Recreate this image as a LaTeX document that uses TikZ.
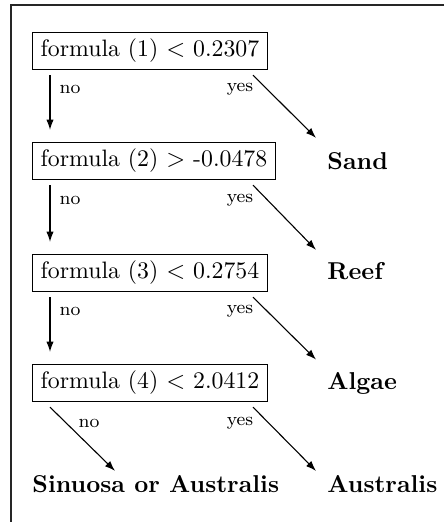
\documentclass[tikz,border=0pt]{standalone}
\usetikzlibrary{calc,arrows.meta}

\tikzset{
  test/.style={draw, line width=0.55pt, inner xsep=3.3pt, inner ysep=2.7pt,
               anchor=west, font=\fontsize{9.75}{12}\selectfont},
  leaf/.style={anchor=west, inner sep=0pt, font=\fontsize{10}{12}\selectfont\bfseries},
  edgelabel/.style={inner sep=0pt, font=\fontsize{7.6}{9}\selectfont},
  branch/.style={line width=0.45pt, -{Latex[length=4.2pt,width=3pt]}},
}

\begin{document}
\begin{tikzpicture}[x=0.41pt, y=-0.41pt]
  \useasboundingbox (0,0) rectangle (444,522);

  % cropped outer frame: only its top and left sides are in view
  \coordinate (frameTL) at (11,5);
  \coordinate (frameTR) at (444,5);
  \coordinate (frameBL) at (11,522);
  \draw[line width=0.6pt, black!85] (frameTR) -- (frameTL) -- (frameBL);

  % decision tests
  \node[test] (b1) at (32,51)  {formula (1) $<$ 0.2307};
  \node[test] (b2) at (32,161) {formula (2) $>$ -0.0478};
  \node[test] (b3) at (32,273) {formula (3) $<$ 0.2754};
  \node[test] (b4) at (32,383) {formula (4) $<$ 2.0412};

  % outcomes
  \node[leaf] (sand)  at (327,161) {Sand};
  \node[leaf] (reef)  at (327,271) {Reef};
  \node[leaf] (algae) at (327,383) {Algae};
  \node[leaf] (aus)   at (327,484) {Australis};
  \node[leaf] (sinaus) at (32,484) {Sinuosa or Australis};

  % "no" branches straight down
  \draw[branch] ($(b1.south west)+(18,5)$) -- ($(b2.north west)+(18,-12)$);
  \draw[branch] ($(b2.south west)+(18,5)$) -- ($(b3.north west)+(18,-12)$);
  \draw[branch] ($(b3.south west)+(18,5)$) -- ($(b4.north west)+(18,-12)$);
  \draw[branch] ($(b4.south west)+(18,5)$) -- ($(sinaus.north west)+(83,-4)$);

  % "yes" branches to the right
  \draw[branch] ($(b1.south west)+(221,5)$) -- ($(sand.north west)+(-11,-14)$);
  \draw[branch] ($(b2.south west)+(221,5)$) -- ($(reef.north west)+(-11,-12)$);
  \draw[branch] ($(b3.south west)+(221,5)$) -- ($(algae.north west)+(-11,-12)$);
  \draw[branch] ($(b4.south west)+(221,5)$) -- ($(aus.north west)+(-11,-4)$);

  % branch labels
  \node[edgelabel] (n1) at (70,89)  {no};
  \node[edgelabel] (y1) at (240,89) {yes};
  \node[edgelabel] (n2) at (70,200) {no};
  \node[edgelabel] (y2) at (240,200) {yes};
  \node[edgelabel] (n3) at (70,311) {no};
  \node[edgelabel] (y3) at (240,311) {yes};
  \node[edgelabel] (n4) at (89,423) {no};
  \node[edgelabel] (y4) at (240,423) {yes};
\end{tikzpicture}
\end{document}
